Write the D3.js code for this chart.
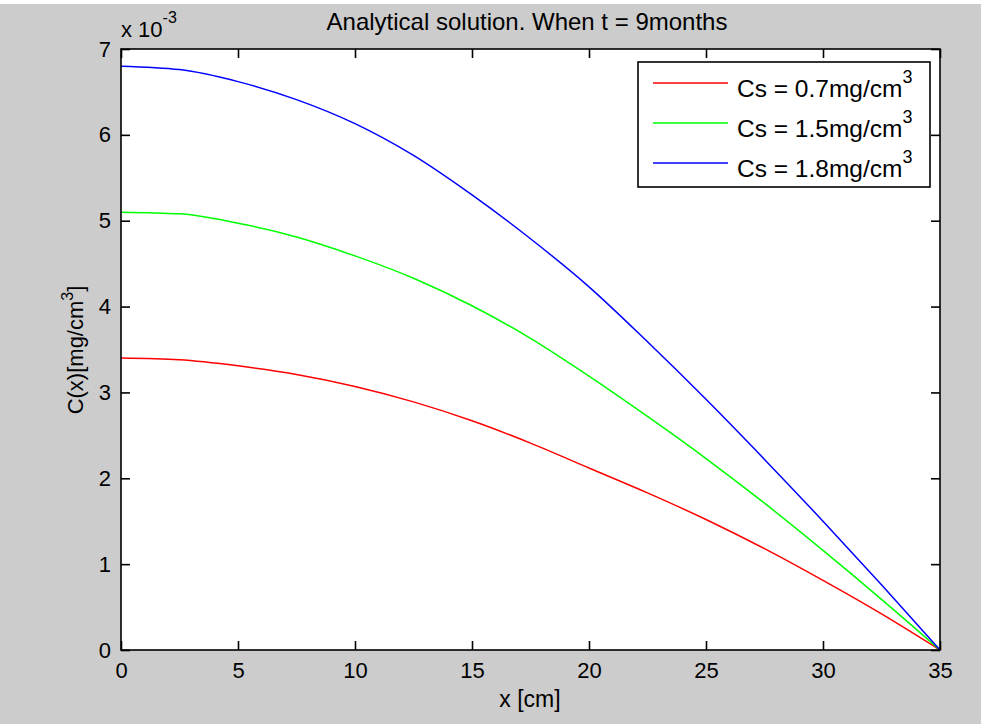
<!DOCTYPE html>
<html>
<head>
<meta charset="utf-8">
<script src="https://cdn.jsdelivr.net/npm/d3@7"></script>
<style>
  html, body { margin: 0; padding: 0; background: #cccccc; }
  svg { display: block; }
  text { font-family: "Liberation Sans", Arial, sans-serif; fill: #000; }
</style>
</head>
<body>
<script>
// ---- data (values in units of 1e-3 mg/cm^3) ----
const xValues = [0, 2.5, 5, 7.5, 10, 12.5, 15, 17.5, 20, 22.5, 25, 27.5, 30, 32.5, 35];
const red07   = [3.40, 3.38, 3.31, 3.21, 3.07, 2.89, 2.67, 2.41, 2.12, 1.83, 1.52, 1.18, 0.81, 0.42, 0];
const green15 = [5.10, 5.08, 4.97, 4.81, 4.59, 4.33, 4.01, 3.63, 3.19, 2.72, 2.23, 1.71, 1.16, 0.59, 0];
const blue18  = [6.80, 6.76, 6.62, 6.41, 6.13, 5.76, 5.30, 4.79, 4.23, 3.59, 2.92, 2.22, 1.50, 0.76, 0];
const seriesNames = ["Cs = 0.7mg/cm", "Cs = 1.5mg/cm", "Cs = 1.8mg/cm"];
const seriesColors = ["#ff0000", "#00ff00", "#0000ff"];
const xTicks = [0, 5, 10, 15, 20, 25, 30, 35];
const yTicks = [0, 1, 2, 3, 4, 5, 6, 7];
const titleText = "Analytical solution. When t = 9months";
const xLabel = "x [cm]";

const W = 981, H = 724;
const FONT = '"Liberation Sans", Arial, sans-serif';
const svg = d3.select("body").append("svg").attr("width", W).attr("height", H);
svg.append("rect").attr("width", W).attr("height", H).attr("fill", "#cccccc");
svg.append("rect").attr("width", W).attr("height", 4).attr("fill", "#ffffff");

const L = 121, R = 940, T = 49, B = 650;
const x = d3.scaleLinear().domain([0, 35]).range([L, R]);
const y = d3.scaleLinear().domain([0, 7]).range([B, T]);

svg.append("rect").attr("x", L).attr("y", T).attr("width", R - L).attr("height", B - T).attr("fill", "#fff");

const series = [red07, green15, blue18];
const line = d3.line().x((d, i) => x(xValues[i])).y(d => y(d)).curve(d3.curveMonotoneX);
const g = svg.append("g");
series.forEach((s, k) => {
  g.append("path").attr("d", line(s)).attr("fill", "none")
    .attr("stroke", seriesColors[k]).attr("stroke-width", 1.5);
});

const tickLen = 9;
const axStyle = sel => {
  sel.select(".domain").remove();
  sel.selectAll("line").attr("stroke", "#000").attr("stroke-width", 1.6);
  sel.selectAll("text").style("font-family", FONT).style("font-size", "22px").attr("fill", "#000");
};
svg.append("g").attr("transform", `translate(0,${B})`)
  .call(d3.axisBottom(x).tickValues(xTicks).tickSizeInner(-tickLen).tickSizeOuter(0).tickPadding(12).tickFormat(d3.format("d")))
  .call(axStyle);
svg.append("g").attr("transform", `translate(0,${T})`)
  .call(d3.axisTop(x).tickValues(xTicks).tickSizeInner(-tickLen).tickSizeOuter(0).tickFormat(""))
  .call(axStyle);
svg.append("g").attr("transform", `translate(${L},0)`)
  .call(d3.axisLeft(y).tickValues(yTicks).tickSizeInner(-tickLen).tickSizeOuter(0).tickPadding(10).tickFormat(d3.format("d")))
  .call(axStyle);
svg.append("g").attr("transform", `translate(${R},0)`)
  .call(d3.axisRight(y).tickValues(yTicks).tickSizeInner(-tickLen).tickSizeOuter(0).tickFormat(""))
  .call(axStyle);

svg.append("rect").attr("x", L).attr("y", T).attr("width", R - L).attr("height", B - T)
  .attr("fill", "none").attr("stroke", "#000").attr("stroke-width", 1.6);

// exponent label
const ex = svg.append("text").attr("x", 121).attr("y", 37).style("font-size", "22px");
ex.append("tspan").text("x 10");
ex.append("tspan").attr("dy", -14).style("font-size", "16px").text("-3");

// title
svg.append("text").attr("x", 527).attr("y", 30).attr("text-anchor", "middle")
  .style("font-size", "24px").text(titleText);

// x label
svg.append("text").attr("x", 530).attr("y", 707).attr("text-anchor", "middle")
  .style("font-size", "23px").text(xLabel);

// y label
const yl = svg.append("text").attr("transform", "translate(83,350) rotate(-90)")
  .attr("text-anchor", "middle").style("font-size", "22px");
yl.append("tspan").text("C(x)[mg/cm");
yl.append("tspan").attr("dy", -10).style("font-size", "16px").text("3");
yl.append("tspan").attr("dy", 10).text("]");

// legend
const lg = svg.append("g");
lg.append("rect").attr("x", 638).attr("y", 62).attr("width", 292).attr("height", 125)
  .attr("fill", "#fff").attr("stroke", "#000").attr("stroke-width", 1.6);
seriesNames.forEach((name, k) => {
  const cy = 83 + k * 40;
  lg.append("line").attr("x1", 653).attr("x2", 728).attr("y1", cy).attr("y2", cy)
    .attr("stroke", seriesColors[k]).attr("stroke-width", 1.5);
  const t = lg.append("text").attr("x", 737).attr("y", cy + 14).style("font-size", "24.5px");
  t.append("tspan").text(name);
  t.append("tspan").attr("dy", -14).style("font-size", "18px").text("3");
});
</script>
</body>
</html>
